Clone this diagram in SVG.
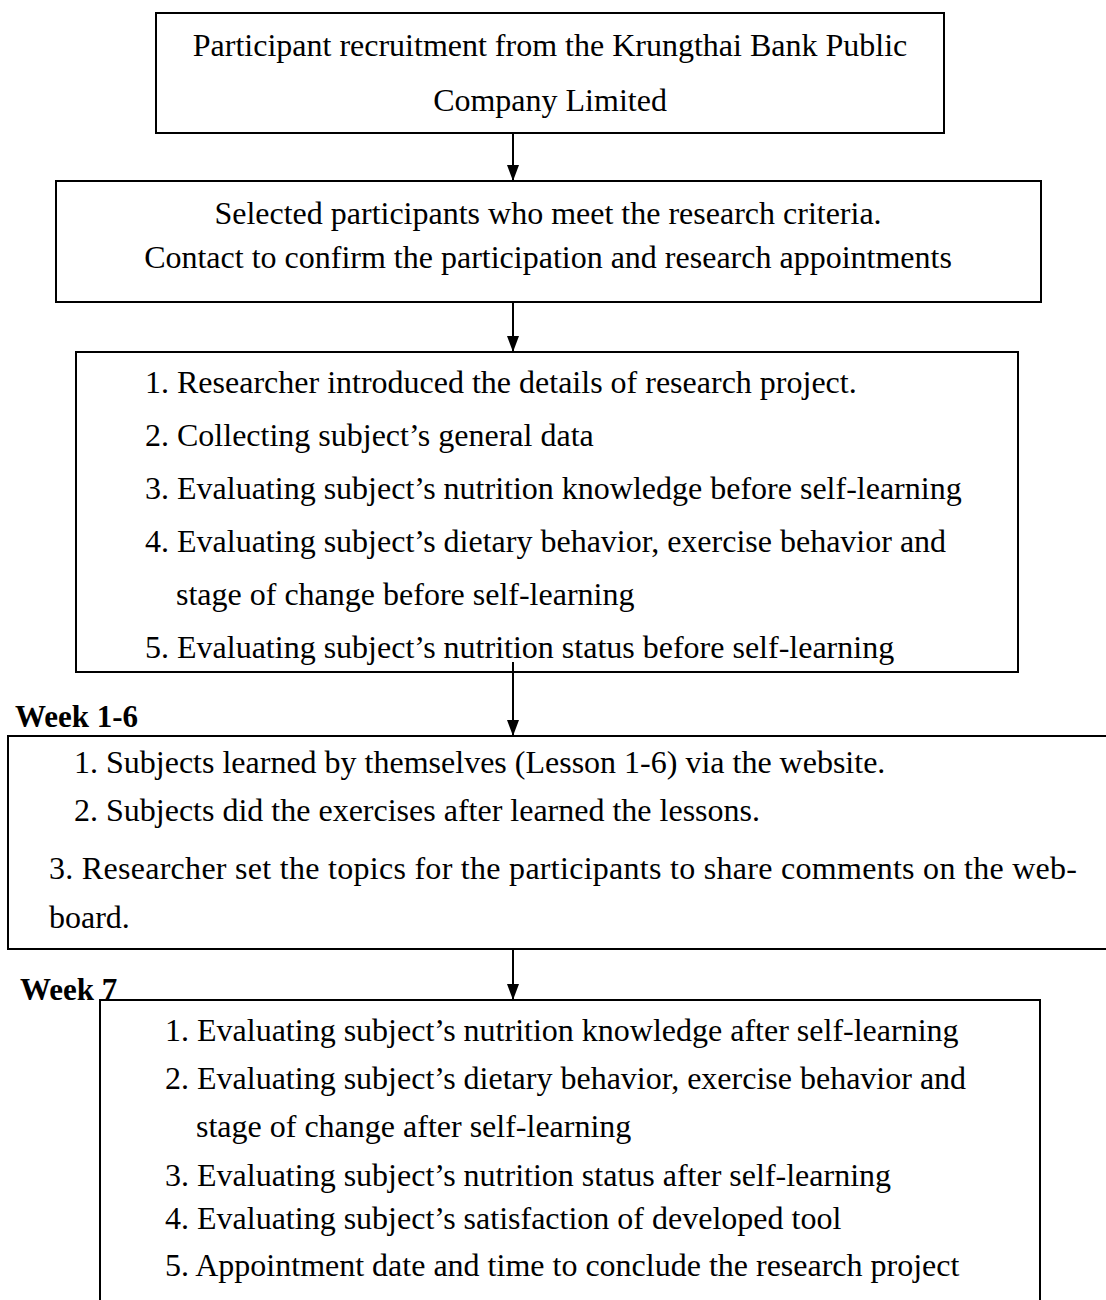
<svg xmlns="http://www.w3.org/2000/svg" width="1106" height="1300" viewBox="0 0 1106 1300">
<style>
.box{fill:#fff;stroke:#000;stroke-width:2}
.t{font-family:"Liberation Serif","Times New Roman",serif;font-size:32px;fill:#000}
.c{text-anchor:middle}
.wk{font-family:"Liberation Serif","Times New Roman",serif;font-size:31px;font-weight:bold;fill:#000}
.conn{stroke:#000;stroke-width:2;fill:none}
</style>
<defs>
<marker id="ah" viewBox="0 0 16 12" refX="16" refY="6" markerWidth="16" markerHeight="12" orient="auto" markerUnits="userSpaceOnUse">
<path d="M0,0 L16,6 L0,12 z" fill="#000"/>
</marker>
</defs>
<g id="node1">
<rect class="box" x="156" y="13" width="788" height="120"/>
<text class="t c" x="550" y="56">Participant recruitment from the Krungthai Bank Public</text>
<text class="t c" x="550" y="111">Company Limited</text>
</g>
<g id="node2">
<rect class="box" x="56" y="181" width="985" height="121"/>
<text class="t c" x="548" y="224">Selected participants who meet the research criteria.</text>
<text class="t c" x="548" y="268">Contact to confirm the participation and research appointments</text>
</g>
<g id="node3">
<rect class="box" x="76" y="352" width="942" height="320"/>
<text class="t" x="145" y="393">1. Researcher introduced the details of research project.</text>
<text class="t" x="145" y="446">2. Collecting subject’s general data</text>
<text class="t" x="145" y="499">3. Evaluating subject’s nutrition knowledge before self-learning</text>
<text class="t" x="145" y="552">4. Evaluating subject’s dietary behavior, exercise behavior and</text>
<text class="t" x="176" y="605">stage of change before self-learning</text>
<text class="t" x="145" y="658">5. Evaluating subject’s nutrition status before self-learning</text>
</g>
<g id="label-week1-6">
<text class="wk" x="15" y="727">Week 1-6</text>
</g>
<g id="node4">
<rect class="box" x="8" y="736" width="1110" height="213"/>
<text class="t" x="74" y="773">1. Subjects learned by themselves (Lesson 1-6) via the website.</text>
<text class="t" x="74" y="821">2. Subjects did the exercises after learned the lessons.</text>
<text class="t" x="49" y="879" textLength="1028" lengthAdjust="spacing">3. Researcher set the topics for the participants to share comments on the web-</text>
<text class="t" x="49" y="928">board.</text>
</g>
<g id="node5">
<rect class="box" x="100" y="1000" width="940" height="320"/>
<text class="t" x="165" y="1041">1. Evaluating subject’s nutrition knowledge after self-learning</text>
<text class="t" x="165" y="1089">2. Evaluating subject’s dietary behavior, exercise behavior and</text>
<text class="t" x="196" y="1137">stage of change after self-learning</text>
<text class="t" x="165" y="1186">3. Evaluating subject’s nutrition status after self-learning</text>
<text class="t" x="165" y="1229">4. Evaluating subject’s satisfaction of developed tool</text>
<text class="t" x="165" y="1276">5. Appointment date and time to conclude the research project</text>
</g>
<g id="label-week7">
<text class="wk" x="20" y="1000">Week 7</text>
</g>
<g id="connectors">
<line class="conn" x1="513" y1="133" x2="513" y2="181" marker-end="url(#ah)"/>
<line class="conn" x1="513" y1="302" x2="513" y2="352" marker-end="url(#ah)"/>
<line class="conn" x1="513" y1="662" x2="513" y2="736" marker-end="url(#ah)"/>
<line class="conn" x1="513" y1="949" x2="513" y2="1000" marker-end="url(#ah)"/>
</g>
</svg>
